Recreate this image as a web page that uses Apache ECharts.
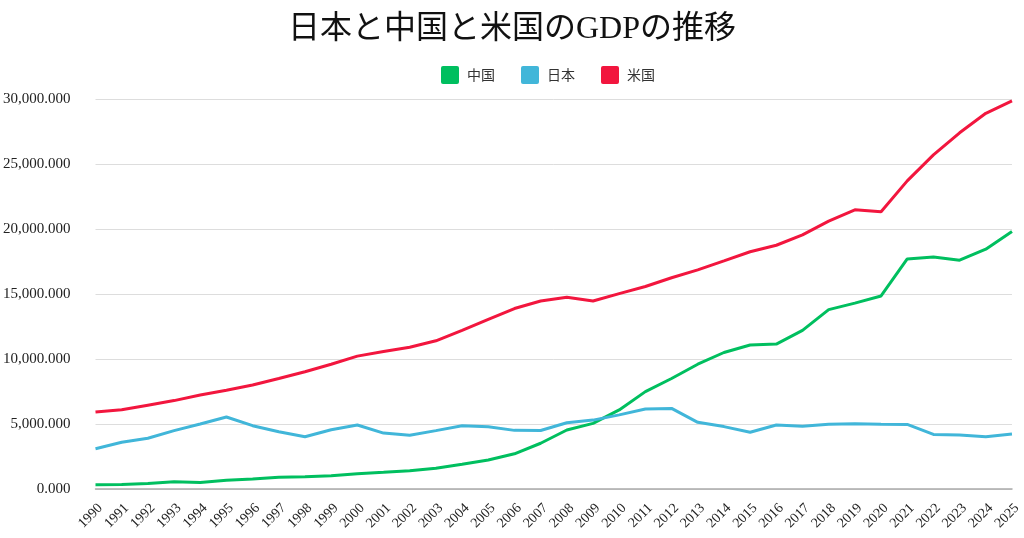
<!DOCTYPE html>
<html>
<head>
<meta charset="utf-8">
<script src="https://cdn.jsdelivr.net/npm/echarts@6/dist/echarts.min.js"></script>
<style>html,body{margin:0;padding:0;background:#fff;}#c{width:1024px;height:538px;}</style>
</head>
<body>
<div id="c"></div>
<script>
const years = ['1990','1991','1992','1993','1994','1995','1996','1997','1998','1999','2000','2001','2002','2003','2004','2005','2006','2007','2008','2009','2010','2011','2012','2013','2014','2015','2016','2017','2018','2019','2020','2021','2022','2023','2024','2025'];
const china = [330,340,420,560,500,670,770,900,950,1020,1180,1280,1410,1590,1900,2230,2710,3520,4540,5050,6080,7490,8500,9600,10500,11080,11150,12200,13800,14300,14850,17700,17850,17600,18450,19800];
const japan = [3100,3590,3900,4490,5000,5540,4870,4410,4020,4560,4920,4300,4130,4490,4870,4790,4510,4500,5100,5300,5700,6150,6200,5130,4800,4360,4920,4820,4980,5020,4980,4970,4200,4150,4020,4230];
const usa = [5920,6100,6450,6800,7230,7600,8000,8500,9020,9600,10220,10570,10900,11400,12200,13050,13880,14460,14750,14460,15030,15580,16250,16860,17550,18250,18750,19550,20600,21480,21330,23700,25700,27400,28900,29850];
const yTicks = {min:0, max:30000, interval:5000};

const chart = echarts.init(document.getElementById('c'), null, {renderer:'canvas'});
const serif = '"Liberation Serif", "DejaVu Serif", serif';
const jp = '"Noto Sans CJK JP", "Noto Sans", sans-serif';
const titleFont = '"Liberation Serif", "Noto Sans CJK JP", serif';
const sq = 'path://M2,0 H16 Q18,0 18,2 V16 Q18,18 16,18 H2 Q0,18 0,16 V2 Q0,0 2,0 Z';
chart.setOption({
  animation:false,
  backgroundColor:'#fff',
  title:{text:'日本と中国と米国のGDPの推移', left:'center', top:9,
    textStyle:{fontFamily:titleFont, fontSize:32, fontWeight:'normal', color:'#111'}},
  legend:{top:61, left:436, itemWidth:18, itemHeight:18, itemGap:26, icon:sq,
    textStyle:{fontFamily:jp, fontSize:14, color:'#333', padding:[0,0,0,3]},
    data:['中国','日本','米国']},
  grid:{left:92, right:12, top:99, bottom:49, containLabel:false},
  xAxis:{type:'category', data:years, boundaryGap:false,
    axisLine:{lineStyle:{color:'#aaa', width:1.5}}, axisTick:{show:false},
    axisLabel:{rotate:45, interval:0, fontFamily:serif, fontSize:14, color:'#222', margin:12, verticalAlign:'top'}},
  yAxis:{type:'value', min:yTicks.min, max:yTicks.max, interval:yTicks.interval,
    axisLine:{show:false}, axisTick:{show:false},
    splitLine:{lineStyle:{color:'#ddd', width:1}},
    axisLabel:{fontFamily:serif, fontSize:15, color:'#222', margin:25,
      formatter:v=>v.toLocaleString('en-US',{minimumFractionDigits:3, maximumFractionDigits:3})}},
  series:[
    {name:'中国', type:'line', data:china, showSymbol:false, symbol:'none', lineStyle:{width:3, color:'#00bf5f'}, itemStyle:{color:'#00bf5f'}},
    {name:'日本', type:'line', data:japan, showSymbol:false, symbol:'none', lineStyle:{width:3, color:'#41b6d9'}, itemStyle:{color:'#41b6d9'}},
    {name:'米国', type:'line', data:usa, showSymbol:false, symbol:'none', lineStyle:{width:3, color:'#f2163e'}, itemStyle:{color:'#f2163e'}}
  ]
});
</script>
</body>
</html>
